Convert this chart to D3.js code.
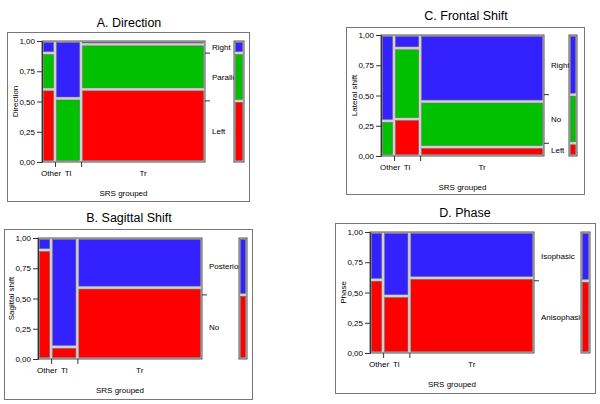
<!DOCTYPE html>
<html><head><meta charset="utf-8">
<script src="https://cdn.jsdelivr.net/npm/d3@7"></script>
<style>body{margin:0;background:#fff}svg{display:block}</style>
</head><body>
<svg id="c" width="600" height="404"></svg>
<script>
// ---- data ----
const groups = ["Other", "Tl", "Tr"];
const groupShare = [0.08, 0.16, 0.76];
const yTicks = [0, 0.25, 0.5, 0.75, 1];
const yTickLabels = ["0,00", "0,25", "0,50", "0,75", "1,00"];

const dirCats = ["Left", "Parallel", "Right"];
const dirLeft = [0.60, 0.00, 0.60];
const dirParallel = [0.30, 0.525, 0.372];
const dirRight = [0.10, 0.475, 0.028];
const dirMargin = [0.505, 0.395, 0.10];

const sagCats = ["No", "Posterior"];
const sagNo = [0.90, 0.10, 0.59];
const sagPosterior = [0.10, 0.90, 0.41];
const sagMargin = [0.53, 0.47];

const froCats = ["Left", "No", "Right"];
const froLeft = [0.00, 0.305, 0.074];
const froNo = [0.29, 0.585, 0.376];
const froRight = [0.71, 0.11, 0.55];
const froMargin = [0.105, 0.402, 0.493];

const phaCats = ["Anisophasic", "Isophasic"];
const phaAniso = [0.605, 0.47, 0.62];
const phaIso = [0.395, 0.53, 0.38];
const phaMargin = [0.597, 0.403];

const RED = "#ff0000", GREEN = "#00c000", BLUE = "#3322ff";

const panels = [
  {title: "A. Direction", ytitle: "Direction", cats: dirCats, series: [dirLeft, dirParallel, dirRight],
   margin: dirMargin, colors: [RED, GREEN, BLUE],
   frame: [7, 32, 249, 201], plot: [42, 205, 41, 162], leg: [234, 244], tx: 129, ty: 27},
  {title: "B. Sagittal Shift", ytitle: "Sagittal shift", cats: sagCats, series: [sagNo, sagPosterior],
   margin: sagMargin, colors: [RED, BLUE],
   frame: [4, 229, 252, 399], plot: [38, 202, 238, 359], leg: [239, 247], tx: 129, ty: 222},
  {title: "C. Frontal Shift", ytitle: "Lateral shift", cats: froCats, series: [froLeft, froNo, froRight],
   margin: froMargin, colors: [RED, GREEN, BLUE],
   frame: [346, 27, 584, 194], plot: [381, 544, 35, 156], leg: [569, 577], tx: 466, ty: 20},
  {title: "D. Phase", ytitle: "Phase", cats: phaCats, series: [phaAniso, phaIso],
   margin: phaMargin, colors: [RED, BLUE],
   frame: [335, 223, 595, 393], plot: [370, 534, 232, 353], leg: [581, 590], tx: 465, ty: 217}
];

const svg = d3.select("#c");
const FONT = "Liberation Sans, Arial, sans-serif";
const FS = 8;

panels.forEach(p => {
  const g = svg.append("g");
  const [fx0, fy0, fx1, fy1] = p.frame;
  const [px0, px1, py0, py1] = p.plot;
  g.append("rect").attr("x", fx0 + 0.5).attr("y", fy0 + 0.5).attr("width", fx1 - fx0).attr("height", fy1 - fy0)
    .attr("fill", "#fff").attr("stroke", "#777").attr("stroke-width", 1);
  g.append("text").attr("x", p.tx).attr("y", p.ty).attr("text-anchor", "middle")
    .attr("font-family", FONT).attr("font-size", 12.5).attr("fill", "#000").text(p.title);

  const y = d3.scaleLinear().domain([0, 1]).range([py1, py0]);
  const cum = [0];
  groupShare.forEach((s, i) => cum.push(cum[i] + s));
  const x = d3.scaleLinear().domain([0, cum[cum.length - 1]]).range([px0, px1]);

  g.append("rect").attr("x", px0).attr("y", py0).attr("width", px1 - px0).attr("height", py1 - py0)
    .attr("fill", "#d0d0d0").attr("stroke", "#555").attr("stroke-width", 1);

  const tiles = [];
  groups.forEach((gr, gi) => {
    let acc = 0;
    p.series.forEach((ser, ci) => {
      const v = ser[gi];
      if (v > 0.001) tiles.push({gx0: cum[gi], gx1: cum[gi + 1], v0: acc, v1: acc + v, color: p.colors[ci]});
      acc += v;
    });
  });
  g.selectAll("rect.tile").data(tiles).join("rect").attr("class", "tile")
    .attr("x", d => x(d.gx0) + 1.5)
    .attr("y", d => y(d.v1) + 1.5)
    .attr("width", d => Math.max(0.5, x(d.gx1) - x(d.gx0) - 3))
    .attr("height", d => Math.max(0.5, y(d.v0) - y(d.v1) - 3))
    .attr("fill", d => d.color).attr("stroke", "#666").attr("stroke-width", 0.5);

  const yAxis = d3.axisLeft(y).tickValues(yTicks).tickFormat((d, i) => yTickLabels[i]).tickSize(5).tickPadding(2);
  const ya = g.append("g").attr("transform", `translate(${px0},0)`).call(yAxis);
  ya.select(".domain").attr("stroke", "#333");
  ya.selectAll("line").attr("stroke", "#333");
  ya.selectAll("text").attr("font-family", FONT).attr("font-size", FS).attr("fill", "#000");

  const xa = d3.axisBottom(x).tickValues(cum.slice(1, cum.length - 1)).tickFormat("").tickSize(5).tickSizeOuter(0);
  const xg = g.append("g").attr("transform", `translate(0,${py1})`).call(xa);
  xg.select(".domain").remove();
  xg.selectAll("line").attr("stroke", "#333");
  groups.forEach((gr, gi) => {
    let cx = (x(cum[gi]) + x(cum[gi + 1])) / 2;
    if (gi === 0) cx = x(cum[gi + 1]) - 4;
    g.append("text").attr("x", cx).attr("y", py1 + 14).attr("text-anchor", "middle")
      .attr("font-family", FONT).attr("font-size", FS).attr("fill", "#000").text(gr);
  });
  g.append("text").attr("x", (px0 + px1) / 2).attr("y", py1 + 34).attr("text-anchor", "middle")
    .attr("font-family", FONT).attr("font-size", FS).attr("fill", "#000").text("SRS grouped");
  g.append("text").attr("transform", `translate(${px0 - 24},${(py0 + py1) / 2}) rotate(-90)`)
    .attr("text-anchor", "middle").attr("font-family", FONT).attr("font-size", FS).attr("fill", "#000").text(p.ytitle);

  let acc = 0;
  const bounds = [];
  p.margin.forEach((m, ci) => {
    g.append("text").attr("x", px1 + 7).attr("y", y(acc + m / 2) + 3)
      .attr("font-family", FONT).attr("font-size", FS).attr("fill", "#000").text(p.cats[ci]);
    acc += m;
    if (ci < p.margin.length - 1) bounds.push(acc);
  });
  g.selectAll("line.bt").data(bounds).join("line").attr("class", "bt")
    .attr("x1", px1).attr("x2", px1 + 5).attr("y1", d => y(d)).attr("y2", d => y(d))
    .attr("stroke", "#333");

  const [lx0, lx1] = p.leg;
  g.append("rect").attr("x", lx0).attr("y", py0).attr("width", lx1 - lx0).attr("height", py1 - py0)
    .attr("fill", "#d0d0d0").attr("stroke", "#555").attr("stroke-width", 1);
  let a2 = 0;
  const segs = p.margin.map((m, ci) => { const s = {v0: a2, v1: a2 + m, color: p.colors[ci]}; a2 += m; return s; });
  g.selectAll("rect.seg").data(segs).join("rect").attr("class", "seg")
    .attr("x", lx0 + 1.5).attr("width", lx1 - lx0 - 3)
    .attr("y", d => y(d.v1) + 1.5).attr("height", d => y(d.v0) - y(d.v1) - 3)
    .attr("fill", d => d.color).attr("stroke", "#666").attr("stroke-width", 0.5);
});
</script>
</body></html>
